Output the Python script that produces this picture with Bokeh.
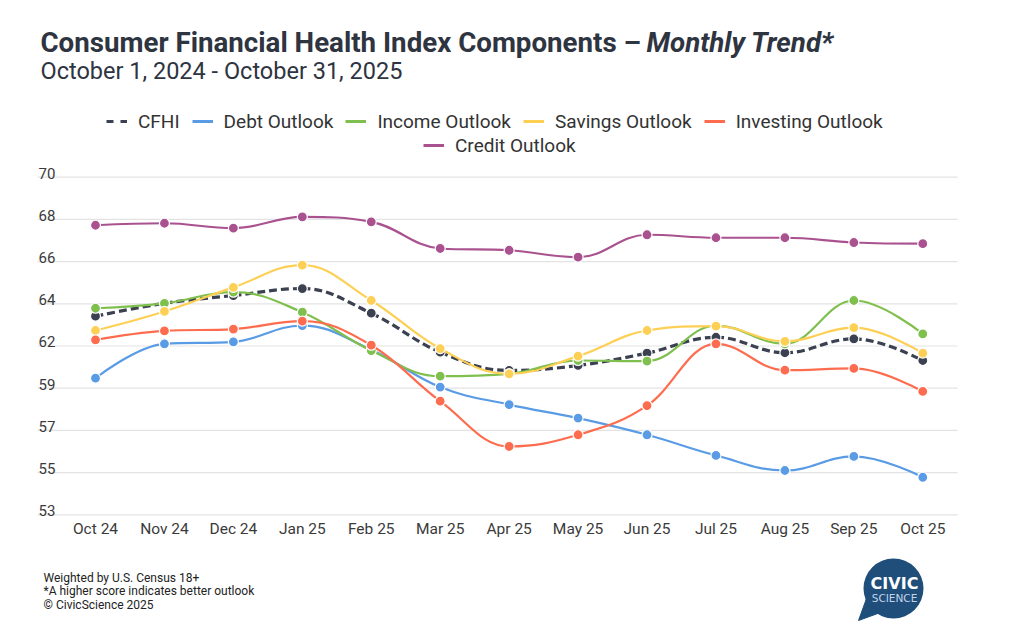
from bokeh.plotting import figure
from bokeh.models import Label, Legend, LegendItem, Range1d
from bokeh.embed import file_html
from bokeh.resources import INLINE
from bokeh.core.properties import value

# ---------------- data ----------------
months = ["Oct 24", "Nov 24", "Dec 24", "Jan 25", "Feb 25", "Mar 25", "Apr 25",
          "May 25", "Jun 25", "Jul 25", "Aug 25", "Sep 25", "Oct 25"]
cfhi      = [63.0, 63.65, 64.04, 64.39, 63.15, 61.19, 60.27, 60.52, 61.14, 61.94, 61.16, 61.86, 60.77]
debt      = [59.88, 61.61, 61.71, 62.53, 61.31, 59.43, 58.55, 57.87, 57.03, 55.99, 55.23, 55.94, 54.89]
income    = [63.40, 63.65, 64.21, 63.20, 61.27, 59.98, 60.10, 60.77, 60.74, 62.53, 61.61, 63.79, 62.11]
savings   = [62.28, 63.24, 64.45, 65.57, 63.79, 61.37, 60.10, 60.99, 62.28, 62.50, 61.73, 62.42, 61.14]
investing = [61.81, 62.26, 62.35, 62.75, 61.54, 58.72, 56.44, 57.03, 58.50, 61.61, 60.28, 60.37, 59.21]
credit    = [67.58, 67.68, 67.43, 68.00, 67.75, 66.41, 66.32, 65.97, 67.10, 66.95, 66.95, 66.71, 66.65]

series_names = ["CFHI", "Debt Outlook", "Income Outlook", "Savings Outlook", "Investing Outlook", "Credit Outlook"]
series_values = [cfhi, debt, income, savings, investing, credit]
series_colors = ["#3b4150", "#5a9be6", "#7fbf4d", "#fdd055", "#fd6c4e", "#a9528f"]

ytick_values = [53, 55.125, 57.25, 59.375, 61.5, 63.625, 65.75, 67.875, 70]
ytick_labels = ["53", "55", "57", "59", "62", "64", "66", "68", "70"]

title_main = "Consumer Financial Health Index Components \u2013 "
title_italic = "Monthly Trend*"
subtitle = "October 1, 2024 - October 31, 2025"
footnotes = ["Weighted by U.S. Census 18+",
             "*A higher score indicates better outlook",
             "\u00a9 CivicScience 2025"]

# ---------------- layout constants (page px) ----------------
W, H = 1016, 623
PX_PER_X = 68.94          # px per category step
PX_PER_Y = 19.86          # px per index unit
X0_PX = 95.0              # page x of first category
Y53_PX = 514.3            # page y of the value 53
GRID_L_PX, GRID_R_PX = 37, 957

X_START = -X0_PX / PX_PER_X
X_END = X_START + W / PX_PER_X
Y_END = 53 + Y53_PX / PX_PER_Y
Y_START = Y_END - H / PX_PER_Y


def dx(px):
    return X_START + px / PX_PER_X


def dy(py):
    return Y_END - py / PX_PER_Y


p = figure(width=W, height=H, output_backend="svg", toolbar_location=None,
           x_range=Range1d(X_START, X_END), y_range=Range1d(Y_START, Y_END),
           min_border=0, min_border_left=0, min_border_right=0,
           min_border_top=0, min_border_bottom=0)
p.outline_line_color = None
p.background_fill_color = "white"
p.border_fill_color = "white"
p.xaxis.visible = False
p.yaxis.visible = False
p.xgrid.visible = False
p.ygrid.visible = False

# horizontal grid lines
p.segment(x0=[dx(GRID_L_PX)] * len(ytick_values), x1=[dx(GRID_R_PX)] * len(ytick_values),
          y0=ytick_values, y1=ytick_values, line_color="#e3e3e3", line_width=1.2)

# y tick labels (above grid lines)
p.text(x=[dx(GRID_L_PX)] * len(ytick_values), y=ytick_values, text=ytick_labels,
       text_font=value("Roboto"), text_font_size="15px", text_color="#3a3a3a",
       text_align="left", text_baseline="alphabetic", x_offset=1, y_offset=-4)

# x tick labels
xs = list(range(len(months)))
p.text(x=xs, y=[53] * len(xs), text=months,
       text_font=value("Roboto"), text_font_size="15.5px", text_color="#3a3a3a",
       text_align="center", text_baseline="middle", y_offset=14)


# ---------------- spline (Highcharts-like) ----------------
def spline_segments(xs, ys, smoothing=1.5):
    n = len(xs)
    lc = [None] * n
    rc = [None] * n
    d = smoothing + 1
    for i in range(1, n - 1):
        x, y = xs[i], ys[i]
        lx, ly = xs[i - 1], ys[i - 1]
        nx, ny = xs[i + 1], ys[i + 1]
        lcx = (smoothing * x + lx) / d
        lcy = (smoothing * y + ly) / d
        rcx = (smoothing * x + nx) / d
        rcy = (smoothing * y + ny) / d
        corr = 0.0
        if rcx != lcx:
            corr = (rcy - lcy) * (rcx - x) / (rcx - lcx) + y - rcy
        lcy += corr
        rcy += corr
        if lcy > ly and lcy > y:
            lcy = max(ly, y); rcy = 2 * y - lcy
        elif lcy < ly and lcy < y:
            lcy = min(ly, y); rcy = 2 * y - lcy
        if rcy > ny and rcy > y:
            rcy = max(ny, y); lcy = 2 * y - rcy
        elif rcy < ny and rcy < y:
            rcy = min(ny, y); lcy = 2 * y - rcy
        lc[i] = (lcx, lcy)
        rc[i] = (rcx, rcy)
    seg = dict(x0=[], y0=[], x1=[], y1=[], cx0=[], cy0=[], cx1=[], cy1=[])
    for i in range(1, n):
        x0, y0 = xs[i - 1], ys[i - 1]
        x1, y1 = xs[i], ys[i]
        c0 = rc[i - 1] if rc[i - 1] is not None else (x0, y0)
        c1 = lc[i] if lc[i] is not None else (x1, y1)
        seg["x0"].append(x0); seg["y0"].append(y0)
        seg["x1"].append(x1); seg["y1"].append(y1)
        seg["cx0"].append(c0[0]); seg["cy0"].append(c0[1])
        seg["cx1"].append(c1[0]); seg["cy1"].append(c1[1])
    return seg


OFF_X = [X_START - 5, X_START - 4]   # legend proxies, outside the visible range
OFF_Y = [60, 60]
legend_items = []
for name, vals, col in zip(series_names, series_values, series_colors):
    seg = spline_segments(xs, vals)
    if name == "CFHI":
        p.bezier(source=seg, x0="x0", y0="y0", x1="x1", y1="y1",
                 cx0="cx0", cy0="cy0", cx1="cx1", cy1="cy1",
                 line_color=col, line_width=3.2, line_dash="8 4")
        proxy = p.line(x=OFF_X, y=OFF_Y, line_color=col, line_width=3.2, line_dash="7 7")
    else:
        p.bezier(source=seg, x0="x0", y0="y0", x1="x1", y1="y1",
                 cx0="cx0", cy0="cy0", cx1="cx1", cy1="cy1",
                 line_color=col, line_width=2.2)
        proxy = p.line(x=OFF_X, y=OFF_Y, line_color=col, line_width=3)
    p.scatter(x=xs, y=vals, size=10, fill_color=col, line_color="white", line_width=1.2)
    legend_items.append(LegendItem(label=name, renderers=[proxy]))


# ---------------- legend & labels (screen units; frame == whole canvas) ----------------
def sx(px):
    return px


def sy(py):
    return H - py


def make_legend(items, left_px, bottom_px):
    return Legend(items=items, orientation="horizontal",
                  location=(sx(left_px), sy(bottom_px)),
                  label_text_font="Roboto", label_text_font_size="19px",
                  label_text_color="#333333", glyph_width=21, glyph_height=24,
                  label_height=24, label_standoff=11, spacing=12,
                  padding=0, margin=0, border_line_color=None,
                  background_fill_alpha=0)


p.add_layout(make_legend(legend_items[:5], 106, 133))
p.add_layout(make_legend(legend_items[5:], 423, 157))


def add_label(text, px, py, size, color, style="normal", font="Roboto", align="left",
              baseline="alphabetic"):
    lab = Label(x=sx(px), y=sy(py), x_units="screen", y_units="screen", text=text,
                text_font=font, text_font_size=size, text_color=color,
                text_font_style=style, text_align=align, text_baseline=baseline)
    p.add_layout(lab)
    return lab


add_label(title_main, 40, 42, "27.7px", "#2e3440", style="bold")
add_label(title_italic, 646, 42, "27.7px", "#2e3440", style="bold italic")
add_label(subtitle, 40, 70, "23.5px", "#2e3440")

for i, t in enumerate(footnotes):
    add_label(t, 43, 577 + i * 13.5, "12px", "#222222")

# logo (speech bubble)
LOGO_BLUE = "#1f4e7b"
p.patch(x=[dx(866), dx(880), dx(858)], y=[dy(598), dy(612), dy(620)],
        fill_color=LOGO_BLUE, line_color=LOGO_BLUE)
p.scatter(x=[dx(893)], y=[dy(588)], size=60, fill_color=LOGO_BLUE, line_color=None)
add_label("CIVIC", 894, 583, "16px", "white", style="bold", font="DejaVu Sans",
          align="center", baseline="middle")
add_label("SCIENCE", 894, 597, "10.5px", "#c3d4e8", font="DejaVu Sans",
          align="center", baseline="middle")

open("out.html", "w").write(file_html(p, INLINE))
